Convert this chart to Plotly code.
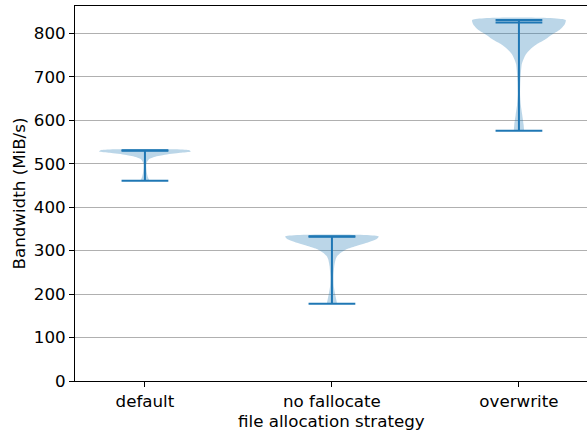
import plotly.graph_objects as go

# ---- data ----
categories = ["default", "no fallocate", "overwrite"]
positions = [1, 2, 3]
mins = [461, 178, 576]
maxs = [531, 333, 831]
medians = [530, 332, 825]

# density profiles (value levels, relative half-width)
default_vals = [461, 465, 470, 480, 490, 500, 510, 515, 520, 525, 528, 531]
default_dens = [0.10, 0.08, 0.06, 0.04, 0.03, 0.03, 0.08, 0.18, 0.40, 0.75, 0.98, 0.95]

nofall_vals = [178, 199, 218, 241, 264, 280, 287, 295, 303, 310, 318, 326, 333]
nofall_dens = [0.11, 0.07, 0.04, 0.035, 0.05, 0.08, 0.11, 0.19, 0.31, 0.50, 0.75, 0.95, 1.0]

overw_vals = [576, 590, 613, 636, 660, 690, 729, 741, 752, 763, 775, 786, 798, 809, 821, 831]
overw_dens = [0.11, 0.10, 0.07, 0.04, 0.025, 0.03, 0.06, 0.10, 0.15, 0.24, 0.38, 0.56, 0.72, 0.88, 0.98, 1.0]

profiles = [(default_vals, default_dens), (nofall_vals, nofall_dens), (overw_vals, overw_dens)]

BLUE = "#1f77b4"
FILL = "rgba(31,119,180,0.3)"
HALF = 0.25   # half of violin width
CAP = 0.125   # half of cap line length

fig = go.Figure()

for pos, (vals, dens) in zip(positions, profiles):
    xs = [pos + HALF * d for d in dens] + [pos - HALF * d for d in reversed(dens)]
    ys = list(vals) + list(reversed(vals))
    fig.add_trace(go.Scatter(x=xs, y=ys, fill="toself", fillcolor=FILL,
                             mode="lines", line=dict(width=0, color=FILL, shape="spline", smoothing=0.6),
                             hoverinfo="skip", showlegend=False))

for pos, lo, hi, med in zip(positions, mins, maxs, medians):
    fig.add_trace(go.Scatter(x=[pos, pos], y=[lo, hi], mode="lines",
                             line=dict(color=BLUE, width=2), showlegend=False))
    for v in (lo, hi, med):
        fig.add_trace(go.Scatter(x=[pos - CAP, pos + CAP], y=[v, v], mode="lines",
                                 line=dict(color=BLUE, width=2), showlegend=False))

font = dict(family="DejaVu Sans", size=16.7, color="black")

fig.update_layout(
    width=587, height=432,
    margin=dict(l=75, r=0, t=6, b=51),
    plot_bgcolor="white", paper_bgcolor="white",
    font=font,
    showlegend=False,
    xaxis=dict(range=[0.626, 3.364], tickmode="array", tickvals=positions, ticktext=categories,
               showgrid=False, zeroline=False, showline=True, linecolor="black", linewidth=1,
               mirror=True, ticks="outside", ticklen=5, tickwidth=1, tickcolor="black",
               tickfont=font),
    yaxis=dict(range=[0, 863], tickmode="linear", tick0=0, dtick=100,
               showgrid=True, gridcolor="#b0b0b0", gridwidth=1, zeroline=False,
               showline=True, linecolor="black", linewidth=1,
               ticks="outside", ticklen=5, tickwidth=1, tickcolor="black", tickfont=font),
    annotations=[
        dict(text="Bandwidth (MiB/s)", xref="paper", yref="paper", x=-0.1113, y=0.5,
             xanchor="center", yanchor="middle", textangle=-90, showarrow=False, font=font),
        dict(text="file allocation strategy", xref="paper", yref="paper", x=0.5, y=-0.1067,
             xanchor="center", yanchor="middle", showarrow=False, font=font),
    ],
)

fig.write_html("out.html", config={"displayModeBar": False},
               post_script="document.body.style.margin='0';document.body.style.overflow='hidden';")
